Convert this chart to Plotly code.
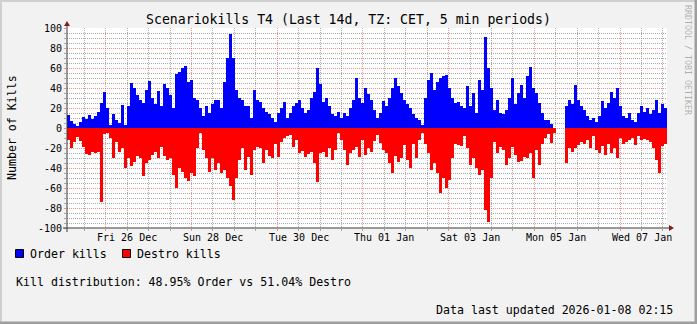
import pandas as pd
import plotly.graph_objects as go

# ---- data -----------------------------------------------------------------
period_start = "2025-12-25 02:15"
period_end = "2026-01-08 02:15"

order_kills = [
    13, 7, 4, 2, 6, 11, 9, 13, 9, 12,
    16, 25, 36, 20, 3, 14, 8, 5, 23, 3,
    22, 45, 40, 33, 28, 25, 38, 47, 30, 24,
    37, 22, 44, 40, 33, 20, 54, 56, 60, 62,
    46, 48, 30, 28, 20, 12, 22, 15, 24, 28,
    28, 20, 46, 70, 94, 70, 38, 30, 28, 22,
    22, 10, 38, 28, 26, 20, 16, 14, 10, 6,
    15, 20, 26, 10, 15, 22, 25, 28, 20, 15,
    18, 30, 36, 60, 44, 26, 30, 22, 14, 12,
    16, 10, 15, 12, 20, 28, 50, 30, 25, 40,
    34, 28, 18, 10, 15, 27, 22, 30, 40, 50,
    42, 35, 28, 24, 20, 14, 10, 8, 3, 30,
    48, 55, 38, 46, 50, 52, 53, 40, 30, 25,
    26, 22, 20, 42, 22, 35, 15, 48, 38, 91,
    60, 40, 18, 28, 15, 14, 18, 30, 50, 24,
    35, 43, 30, 52, 61, 40, 35, 25, 15, 8,
    8, 4, 0, 0, 0, 0, 22, 28, 24, 43,
    28, 22, 18, 12, 8, 10, 6, 12, 27, 20,
    25, 36, 30, 40, 22, 12, 10, 15, 8, 6,
    15, 22, 16, 20, 14, 18, 28, 15, 24, 20,
]

destro_kills = [
    -12, -20, -14, -9, -13, -19, -26, -27, -24, -25,
    -24, -74, -6, -5, -10, -30, -14, -24, -20, -40,
    -30, -38, -34, -28, -30, -48, -35, -32, -27, -24,
    -30, -19, -28, -32, -30, -47, -60, -40, -44, -50,
    -53, -45, -48, -20, -5, -22, -30, -44, -30, -42,
    -35, -45, -42, -50, -58, -72, -50, -32, -20, -42,
    -29, -47, -22, -19, -20, -35, -22, -28, -30, -16,
    -29, -14, -10, -8, -7, -19, -12, -25, -23, -29,
    -26, -24, -35, -54, -25, -24, -29, -20, -32, -22,
    -5, -12, -22, -37, -25, -22, -19, -29, -12, -27,
    -20, -24, -13, -7, -15, -22, -25, -35, -45, -28,
    -34, -30, -17, -32, -40, -16, -30, -12, -5, -16,
    -25, -42, -35, -45, -65, -50, -60, -52, -30, -16,
    -17, -18, -8, -20, -37, -30, -40, -47, -42, -82,
    -94, -50, -14, -25, -19, -22, -37, -30, -19, -27,
    -34, -33, -29, -30, -25, -50, -22, -37, -16, -10,
    -6, -15, -5, 0, 0, 0, -35, -20, -24, -20,
    -17, -14, -16, -12, -20, -8, -22, -25, -18, -27,
    -16, -25, -20, -30, -10, -16, -14, -12, -10, -17,
    -8, -12, -11, -12, -14, -20, -32, -45, -18, -16,
]

major_grid_days = ["2025-12-26", "2025-12-28", "2025-12-30", "2026-01-01",
                   "2026-01-03", "2026-01-05", "2026-01-07"]
day_labels = ["Fri 26 Dec", "Sun 28 Dec", "Tue 30 Dec", "Thu 01 Jan",
              "Sat 03 Jan", "Mon 05 Jan", "Wed 07 Jan"]
y_tick_values = [100, 80, 60, 40, 20, 0, -20, -40, -60, -80, -100]
y_tick_labels = ["100", "80", "60", "40", "20", "0", "-20", "-40", "-60", "-80", "-100"]

title_text = "Scenariokills T4 (Last 14d, TZ: CET, 5 min periods)"
y_title = "Number of Kills"
legend_names = ["Order kills", "Destro kills"]
distribution_text = "Kill distribution: 48.95% Order vs 51.04% Destro"
updated_text = "Data last updated 2026-01-08 02:15"
watermark = "RRDTOOL / TOBI OETIKER"

# ---- time base for the consolidated bins ----------------------------------
t0 = pd.Timestamp(period_start)
t1 = pd.Timestamp(period_end)
step = (t1 - t0) / len(order_kills)
bin_centers = [t0 + step * (i + 0.5) for i in range(len(order_kills))]
bin_ms = step.total_seconds() * 1000
label_times = [pd.Timestamp(d) + pd.Timedelta(hours=12) for d in major_grid_days]

# minor grid: every 12 h, skipping the major (2-day) lines
major_ts = {pd.Timestamp(d) for d in major_grid_days}
minor_x = [t for t in pd.date_range("2025-12-25 12:00", t1, freq="12h") if t not in major_ts]
minor_y = [v for v in range(-100, 101, 5) if v % 20 != 0]

# ---- canvas geometry (pixels) ---------------------------------------------
W, H = 697, 324
X0, XS = 67, 600          # plot origin and width
Y0, YS = 228, 200         # plot bottom and height


def px(x):
    return (x - X0) / XS


def py(y):
    return (Y0 - y) / YS


FONT = "DejaVu Sans Mono"
BLUE, RED = "#0000FF", "#FF0000"
GRID = "rgba(143,143,143,0.75)"
MGRID = "rgba(222,79,79,0.6)"
ARROW = "#801F1F"
AXIS = "#3A3A3A"

fig = go.Figure()
fig.add_trace(go.Bar(x=bin_centers, y=order_kills, width=bin_ms, name=legend_names[0],
                     marker=dict(color=BLUE, line=dict(width=0)), showlegend=False))
fig.add_trace(go.Bar(x=bin_centers, y=destro_kills, width=bin_ms, name=legend_names[1],
                     marker=dict(color=RED, line=dict(width=0)), showlegend=False))

shapes = []
# 3d frame around the image
shapes.append(dict(type="rect", xref="paper", yref="paper", x0=px(0), x1=px(W), y0=py(0), y1=py(2),
                   fillcolor="#CFCFCF", line=dict(width=0), layer="below"))
shapes.append(dict(type="rect", xref="paper", yref="paper", x0=px(0), x1=px(2), y0=py(0), y1=py(H),
                   fillcolor="#CFCFCF", line=dict(width=0), layer="below"))
shapes.append(dict(type="rect", xref="paper", yref="paper", x0=px(0), x1=px(W), y0=py(H - 2.5), y1=py(H),
                   fillcolor="#9E9E9E", line=dict(width=0), layer="below"))
shapes.append(dict(type="rect", xref="paper", yref="paper", x0=px(W - 2.5), x1=px(W), y0=py(0), y1=py(H),
                   fillcolor="#9E9E9E", line=dict(width=0), layer="below"))
# axes with arrows
shapes.append(dict(type="line", xref="paper", yref="paper", x0=px(X0 - 4), x1=px(X0 + XS + 4),
                   y0=py(Y0), y1=py(Y0), line=dict(color=AXIS, width=1)))
shapes.append(dict(type="line", xref="paper", yref="paper", x0=px(X0), x1=px(X0),
                   y0=py(Y0 + 4), y1=py(Y0 - YS - 4), line=dict(color=AXIS, width=1)))
shapes.append(dict(type="path", xref="paper", yref="paper",
                   path=f"M{px(X0 + XS + 2)},{py(Y0 - 3)} L{px(X0 + XS + 2)},{py(Y0 + 3)} "
                        f"L{px(X0 + XS + 7)},{py(Y0)} Z",
                   fillcolor=ARROW, line=dict(width=0)))
shapes.append(dict(type="path", xref="paper", yref="paper",
                   path=f"M{px(X0 - 3)},{py(Y0 - YS - 2)} L{px(X0 + 3)},{py(Y0 - YS - 2)} "
                        f"L{px(X0)},{py(Y0 - YS - 7)} Z",
                   fillcolor=ARROW, line=dict(width=0)))
# legend swatches
for x_left, col in ((15.5, BLUE), (122.5, RED)):
    shapes.append(dict(type="rect", xref="paper", yref="paper", x0=px(x_left), x1=px(x_left + 8),
                       y0=py(249.5), y1=py(257.5), fillcolor=col, line=dict(color="#000000", width=1)))

annotations = [
    dict(text=title_text, x=px(348), y=py(20), xanchor="center", yanchor="middle",
         font=dict(family=FONT, size=13.2, color="#000000")),
    dict(text=y_title, x=px(12), y=py(128), xanchor="center", yanchor="middle", textangle=-90,
         font=dict(family=FONT, size=11.6, color="#000000")),
    dict(text=legend_names[0], x=px(29), y=py(254), xanchor="left", yanchor="middle",
         font=dict(family=FONT, size=11.6, color="#000000")),
    dict(text=legend_names[1], x=px(136), y=py(254), xanchor="left", yanchor="middle",
         font=dict(family=FONT, size=11.6, color="#000000")),
    dict(text=distribution_text, x=px(15), y=py(282), xanchor="left", yanchor="middle",
         font=dict(family=FONT, size=11.6, color="#000000")),
    dict(text=updated_text, x=px(674), y=py(310), xanchor="right", yanchor="middle",
         font=dict(family=FONT, size=11.6, color="#000000")),
    dict(text=watermark, x=px(688), y=py(4), xanchor="center", yanchor="top", textangle=90,
         font=dict(family=FONT, size=8.3, color="rgba(0,0,0,0.3)")),
]
for a in annotations:
    a.update(xref="paper", yref="paper")
# day labels sit at noon of each labelled day, just under the axis
for t, lab in zip(label_times, day_labels):
    annotations.append(dict(text=lab, x=t, xref="x", y=py(237), yref="paper",
                            xanchor="center", yanchor="middle",
                            font=dict(family=FONT, size=10, color="#000000")))
for a in annotations:
    a.update(showarrow=False, borderpad=0)

fig.update_layout(
    width=W, height=H,
    margin=dict(l=X0, r=W - X0 - XS, t=Y0 - YS, b=H - Y0, pad=0),
    paper_bgcolor="#F2F2F2", plot_bgcolor="#FFFFFF",
    barmode="overlay", bargap=0,
    showlegend=False,
    font=dict(family=FONT, size=10, color="#000000"),
    shapes=shapes, annotations=annotations,
    xaxis=dict(
        type="date", range=[t0, t1], fixedrange=True,
        tickmode="array", tickvals=major_grid_days, showticklabels=False,
        showgrid=True, gridcolor=MGRID, griddash="1px,1px", gridwidth=1,
        ticks="outside", ticklen=2, tickcolor=MGRID, tickwidth=1,
        minor=dict(tickmode="array", tickvals=minor_x, showgrid=True,
                   gridcolor=GRID, griddash="1px,1px", gridwidth=1,
                   ticks="outside", ticklen=2, tickcolor=GRID),
        zeroline=False, showline=False,
    ),
    yaxis=dict(
        range=[-100, 100], fixedrange=True,
        tickmode="array", tickvals=y_tick_values, ticktext=y_tick_labels,
        showgrid=True, gridcolor=MGRID, griddash="1px,1px", gridwidth=1,
        ticks="outside", ticklen=2, tickcolor=MGRID,
        minor=dict(tickmode="array", tickvals=minor_y, showgrid=True, gridcolor=GRID,
                   griddash="1px,1px", gridwidth=1,
                   ticks="outside", ticklen=2, tickcolor=GRID),
        zeroline=False, showline=False,
        tickfont=dict(family=FONT, size=10, color="#000000"),
    ),
)

fig.write_html("out.html")
